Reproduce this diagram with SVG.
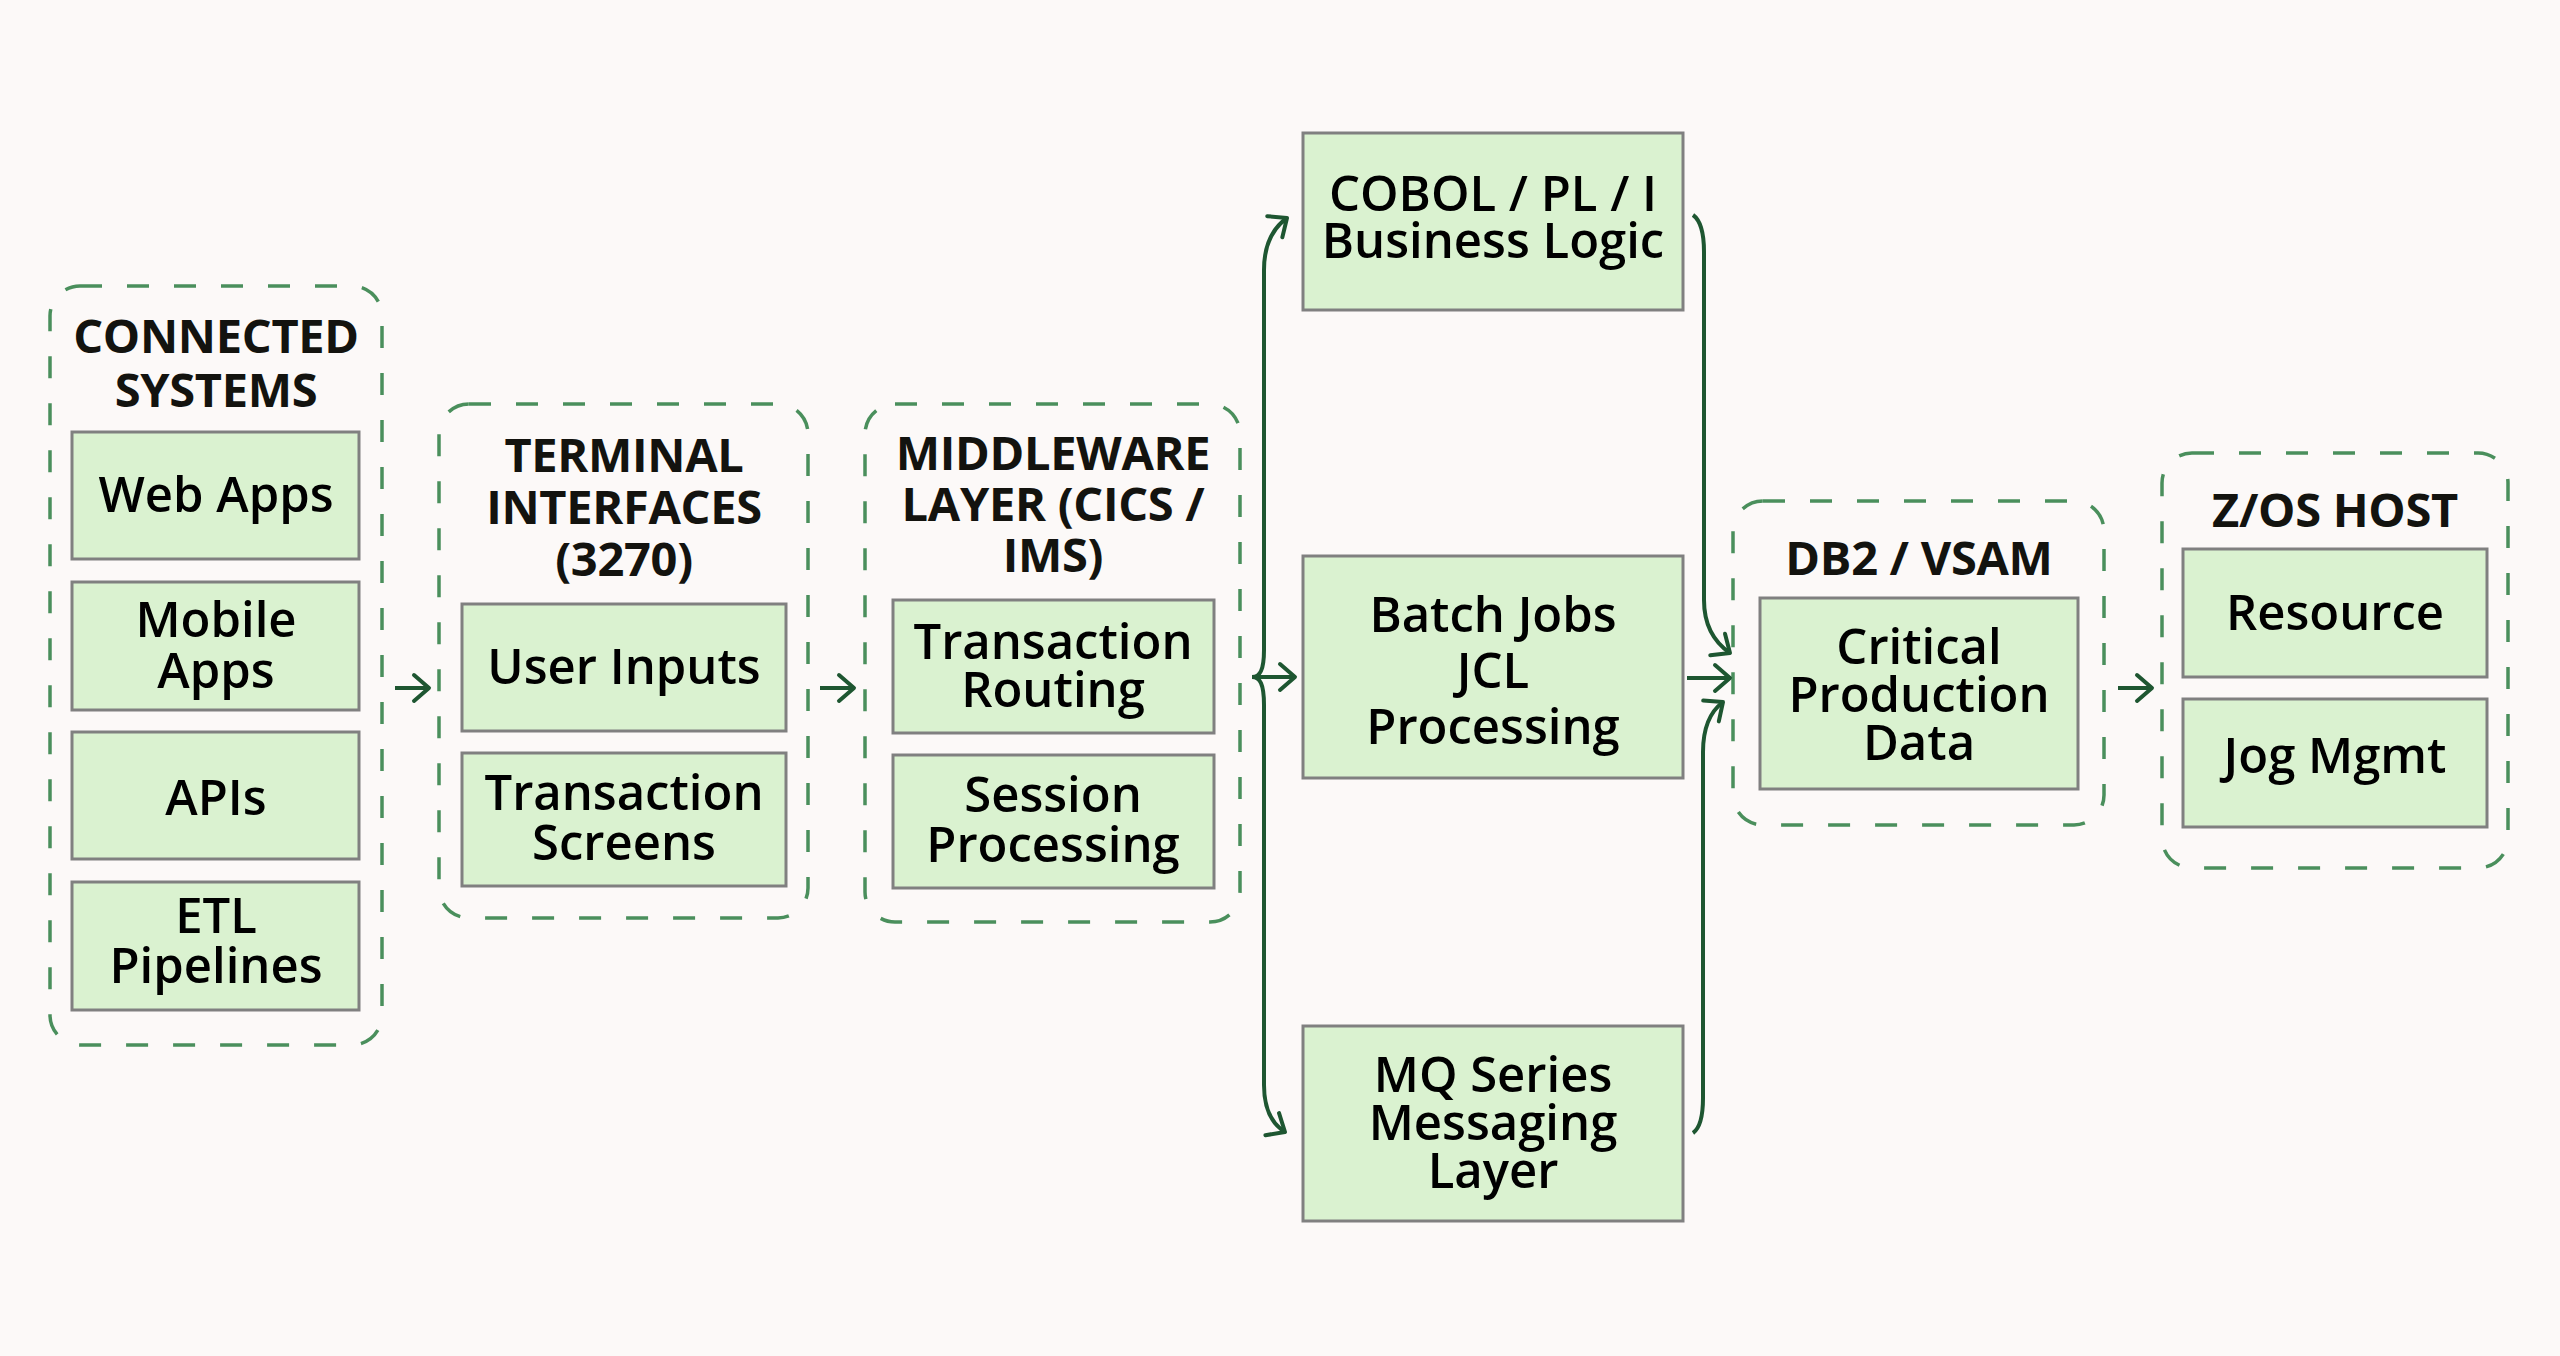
<svg xmlns="http://www.w3.org/2000/svg" width="2560" height="1356" viewBox="0 0 2560 1356">
<style>
.bg{fill:#FCF9F8}
.cl{fill:none;stroke:#4A8F5C;stroke-width:3.5;stroke-dasharray:22 25}
.bx{fill:#DAF2D0;stroke:#808080;stroke-width:3}
.tt{font-family:"Open Sans","Noto Sans",sans-serif;font-weight:700;font-size:47px;fill:#13130F;text-anchor:middle;letter-spacing:-0.3px}
.tx{font-family:"Open Sans","Noto Sans",sans-serif;font-weight:600;font-size:49px;fill:#000;text-anchor:middle}
.cn{fill:none;stroke:#1E5631;stroke-width:4;marker-end:url(#ah)}
</style>
<defs>
<marker id="ah" viewBox="-20 -18 24 36" refX="0" refY="0" markerWidth="24" markerHeight="36" markerUnits="userSpaceOnUse" orient="auto">
<path d="M-15,-13 L0,0 L-15,13" fill="none" stroke="#1E5631" stroke-width="4" stroke-linecap="round" stroke-linejoin="round"/>
</marker>
</defs>
<rect class="bg" x="0" y="0" width="2560" height="1356"/>

<g id="connected-systems">
<rect class="cl" x="50" y="286" width="332" height="759" rx="30"/>
<text class="tt" x="216" y="353">CONNECTED</text>
<text class="tt" x="216" y="407">SYSTEMS</text>
<g id="web-apps"><rect class="bx" x="72" y="432" width="287" height="127"/><text class="tx" x="216" y="512">Web Apps</text></g>
<g id="mobile-apps"><rect class="bx" x="72" y="582" width="287" height="128"/><text class="tx" x="216" y="637">Mobile</text><text class="tx" x="216" y="688">Apps</text></g>
<g id="apis"><rect class="bx" x="72" y="732" width="287" height="127"/><text class="tx" x="216" y="815">APIs</text></g>
<g id="etl"><rect class="bx" x="72" y="882" width="287" height="128"/><text class="tx" x="216" y="933">ETL</text><text class="tx" x="216" y="983">Pipelines</text></g>
</g>

<g id="terminal-interfaces">
<rect class="cl" x="439" y="404" width="369" height="514" rx="30"/>
<text class="tt" x="624" y="472">TERMINAL</text>
<text class="tt" x="624" y="524">INTERFACES</text>
<text class="tt" x="624" y="576">(3270)</text>
<g id="user-inputs"><rect class="bx" x="462" y="604" width="324" height="127"/><text class="tx" x="624" y="684">User Inputs</text></g>
<g id="transaction-screens"><rect class="bx" x="462" y="753" width="324" height="133"/><text class="tx" x="624" y="810">Transaction</text><text class="tx" x="624" y="860">Screens</text></g>
</g>

<g id="middleware-layer">
<rect class="cl" x="865" y="404" width="375" height="518" rx="30"/>
<text class="tt" x="1053" y="470">MIDDLEWARE</text>
<text class="tt" x="1053" y="521">LAYER (CICS /</text>
<text class="tt" x="1053" y="572">IMS)</text>
<g id="transaction-routing"><rect class="bx" x="893" y="600" width="321" height="133"/><text class="tx" x="1053" y="659">Transaction</text><text class="tx" x="1053" y="707">Routing</text></g>
<g id="session-processing"><rect class="bx" x="893" y="755" width="321" height="133"/><text class="tx" x="1053" y="812">Session</text><text class="tx" x="1053" y="862">Processing</text></g>
</g>

<g id="cobol"><rect class="bx" x="1303" y="133" width="380" height="177"/><text class="tx" x="1493" y="211">COBOL / PL / I</text><text class="tx" x="1493" y="258">Business Logic</text></g>
<g id="batch-jobs"><rect class="bx" x="1303" y="556" width="380" height="222"/><text class="tx" x="1493" y="632">Batch Jobs</text><text class="tx" x="1493" y="688">JCL</text><text class="tx" x="1493" y="744">Processing</text></g>
<g id="mq-series"><rect class="bx" x="1303" y="1026" width="380" height="195"/><text class="tx" x="1493" y="1092">MQ Series</text><text class="tx" x="1493" y="1140">Messaging</text><text class="tx" x="1493" y="1188">Layer</text></g>

<g id="db2-vsam">
<rect class="cl" x="1733" y="501" width="371" height="324" rx="30"/>
<text class="tt" x="1919" y="575">DB2 / VSAM</text>
<g id="critical-data"><rect class="bx" x="1760" y="598" width="318" height="191"/><text class="tx" x="1919" y="664">Critical</text><text class="tx" x="1919" y="712">Production</text><text class="tx" x="1919" y="760">Data</text></g>
</g>

<g id="zos-host">
<rect class="cl" x="2162" y="453" width="346" height="415" rx="30"/>
<text class="tt" x="2335" y="527">Z/OS HOST</text>
<g id="resource"><rect class="bx" x="2183" y="549" width="304" height="128"/><text class="tx" x="2335" y="630">Resource</text></g>
<g id="jog-mgmt"><rect class="bx" x="2183" y="699" width="304" height="128"/><text class="tx" x="2335" y="773">Jog Mgmt</text></g>
</g>

<g id="connectors">
<path class="cn" d="M395,688 L429,688"/>
<path class="cn" d="M820,688 L854,688"/>
<path class="cn" d="M1252,677 L1295,677"/>
<path class="cn" d="M1252,677 C1260,677 1264,670 1264,650 L1264,270 C1264,245 1273,228 1287,218"/>
<path class="cn" d="M1252,677 C1260,677 1264,684 1264,705 L1264,1085 C1264,1108 1272,1124 1285,1132"/>
<path class="cn" d="M1693,215 C1700,220 1704,232 1704,252 L1704,600 C1704,625 1714,642 1730,653"/>
<path class="cn" d="M1687,678 L1730,678"/>
<path class="cn" d="M1693,1133 C1700,1128 1703,1116 1703,1098 L1703,752 C1703,727 1711,711 1723,702"/>
<path class="cn" d="M2118,688 L2152,688"/>
</g>
</svg>
